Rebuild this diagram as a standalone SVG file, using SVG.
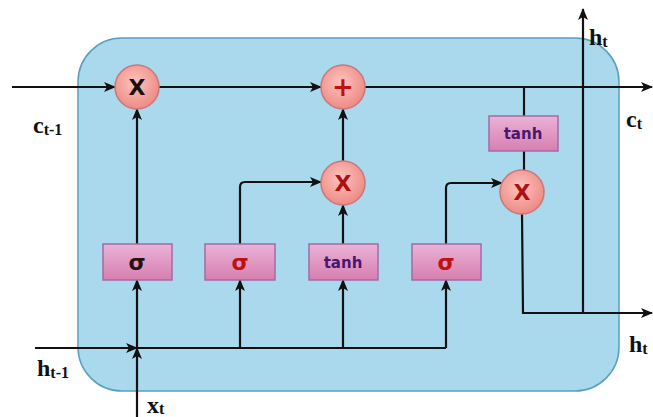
<svg xmlns="http://www.w3.org/2000/svg" width="653" height="417" viewBox="0 0 653 417">
<defs>
<radialGradient id="cg" cx="0.45" cy="0.4" r="0.6">
<stop offset="0" stop-color="#fbc4c0"/>
<stop offset="1" stop-color="#ef8a84"/>
</radialGradient>
<linearGradient id="bg" x1="0" y1="0" x2="0" y2="1">
<stop offset="0" stop-color="#eab2d6"/>
<stop offset="1" stop-color="#d77fb0"/>
</linearGradient>
<marker id="ah" viewBox="0 0 12 10" refX="11" refY="5" markerWidth="12" markerHeight="10" markerUnits="userSpaceOnUse" orient="auto">
<path d="M0,0 L12,5 L0,10 L3,5 Z" fill="#111"/>
</marker>
<style>
.ln{fill:none;stroke:#111;stroke-width:2.2}
.op{fill:url(#cg);stroke:#c87878;stroke-width:1.5}
.bx{fill:url(#bg);stroke:#a46aa6;stroke-width:1.5}
.sym{font-family:"DejaVu Sans","Liberation Sans",sans-serif;font-weight:bold;text-anchor:middle}
.lbl{font-family:"Liberation Serif",serif;font-weight:bold;fill:#111;font-size:24px}
.sub{font-size:16px}
</style>
</defs>
<rect x="78" y="38" width="541" height="353" rx="44" ry="44" fill="#aad9ee" stroke="#5a9fc0" stroke-width="1.5"/>
<g id="connectors">
<line class="ln" x1="12" y1="87" x2="115" y2="87" marker-end="url(#ah)"/>
<line class="ln" x1="159" y1="87" x2="321" y2="87" marker-end="url(#ah)"/>
<line class="ln" x1="365" y1="87" x2="652" y2="87" marker-end="url(#ah)"/>
<line class="ln" x1="35" y1="348" x2="137" y2="348" marker-end="url(#ah)"/>
<line class="ln" x1="137" y1="348" x2="446" y2="348"/>
<line class="ln" x1="137" y1="417" x2="137" y2="348" marker-end="url(#ah)"/>
<line class="ln" x1="137" y1="348" x2="137" y2="280" marker-end="url(#ah)"/>
<line class="ln" x1="240" y1="348" x2="240" y2="280" marker-end="url(#ah)"/>
<line class="ln" x1="343" y1="348" x2="343" y2="280" marker-end="url(#ah)"/>
<path class="ln" d="M446,348 V280" marker-end="url(#ah)"/>
<line class="ln" x1="137" y1="244" x2="137" y2="109" marker-end="url(#ah)"/>
<path class="ln" d="M240,244 V187 Q240,182 245,182 H321" marker-end="url(#ah)"/>
<line class="ln" x1="343" y1="244" x2="343" y2="205" marker-end="url(#ah)"/>
<line class="ln" x1="343" y1="161" x2="343" y2="109" marker-end="url(#ah)"/>
<path class="ln" d="M446,244 V188 Q446,183 451,183 H502" marker-end="url(#ah)"/>
<line class="ln" x1="524" y1="87" x2="524" y2="116"/>
<line class="ln" x1="524" y1="151" x2="524" y2="170"/>
<path class="ln" d="M522,213 L523,313 H652" marker-end="url(#ah)"/>
<line class="ln" x1="583" y1="313" x2="583" y2="9" marker-end="url(#ah)"/>
</g>
<g id="forget-mul"><circle class="op" cx="137" cy="87" r="22"/><text class="sym" x="137" y="95" font-size="22" fill="#1a1010">X</text></g>
<g id="add"><circle class="op" cx="343" cy="87" r="22"/><text class="sym" x="343" y="96" font-size="26" fill="#c01010">+</text></g>
<g id="input-mul"><circle class="op" cx="343" cy="183" r="22"/><text class="sym" x="343" y="191" font-size="22" fill="#b01010">X</text></g>
<g id="output-mul"><circle class="op" cx="522" cy="192" r="22"/><text class="sym" x="522" y="200" font-size="22" fill="#b01010">X</text></g>
<g id="tanh-out"><rect class="bx" x="489" y="116" width="69" height="35"/><text class="sym" x="523" y="139" font-size="15" fill="#4a1670">tanh</text></g>
<g id="sigma-forget"><rect class="bx" x="103" y="244" width="69" height="36"/><text class="sym" x="137" y="270" font-size="22" fill="#2a1010">σ</text></g>
<g id="sigma-input"><rect class="bx" x="205" y="244" width="70" height="36"/><text class="sym" x="240" y="270" font-size="22" fill="#c01010">σ</text></g>
<g id="tanh-cand"><rect class="bx" x="309" y="244" width="69" height="36"/><text class="sym" x="343" y="268" font-size="15" fill="#4a1670">tanh</text></g>
<g id="sigma-output"><rect class="bx" x="412" y="244" width="69" height="36"/><text class="sym" x="446" y="270" font-size="22" fill="#c01010">σ</text></g>
<g id="labels">
<text class="lbl" x="33" y="133">c<tspan class="sub" dy="2">t-1</tspan></text>
<text class="lbl" x="37" y="376">h<tspan class="sub" dy="2">t-1</tspan></text>
<text class="lbl" x="147" y="413" font-size="22px">x<tspan class="sub" dy="1">t</tspan></text>
<text class="lbl" x="589" y="45">h<tspan class="sub" dy="2">t</tspan></text>
<text class="lbl" x="626" y="127">c<tspan class="sub" dy="2">t</tspan></text>
<text class="lbl" x="629" y="352">h<tspan class="sub" dy="2">t</tspan></text>
</g>
</svg>
